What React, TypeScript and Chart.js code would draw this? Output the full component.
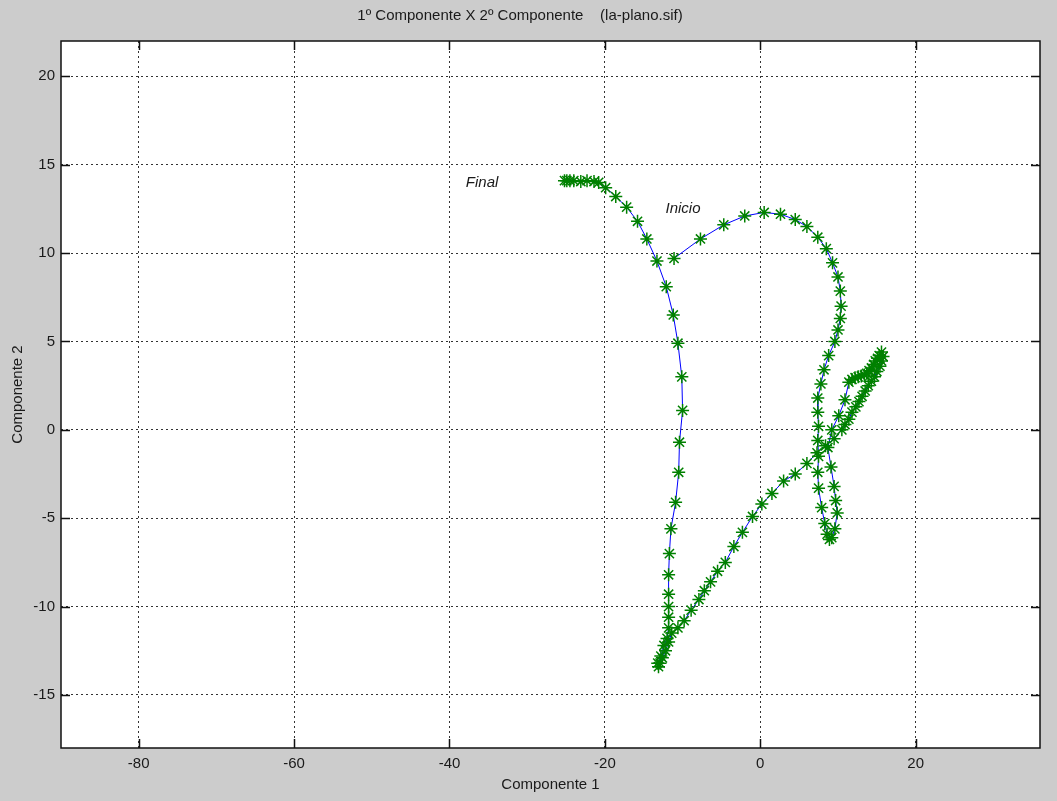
import React, { useEffect, useRef } from "react";
import { Chart, registerables } from "chart.js";

Chart.register(...registerables);

const TITLE = "1º Componente X 2º Componente    (la-plano.sif)";
const X_LABEL = "Componente 1";
const Y_LABEL = "Componente 2";

const X_TICKS = [-80, -60, -40, -20, 0, 20];
const Y_TICKS = [-15, -10, -5, 0, 5, 10, 15, 20];
const X_MIN = -90;
const X_MAX = 36;
const Y_MIN = -18;
const Y_MAX = 22;

// trajectory: 1st component (x) and 2nd component (y)
const comp1 = [
  -11.1, -7.7, -4.7, -2.0, 0.5, 2.6, 4.5, 6.0, 7.4, 8.5, 9.3, 10.0, 10.3, 10.4, 10.3, 10.0, 9.6, 8.8,
  8.2, 7.8, 7.4, 7.4, 7.5, 7.4, 7.5, 7.4, 7.5, 7.9, 8.3, 8.6, 8.9, 9.2, 9.6, 9.9, 9.7, 9.5, 9.1, 8.7,
  9.2, 10.1, 10.9, 11.4, 11.8, 12.2, 12.6, 13.0, 13.4, 13.7, 14.0, 14.3, 14.6, 14.8, 15.1, 15.3, 15.6, 15.8, 15.6,
  15.4, 15.0, 14.7, 14.3, 13.9, 13.5, 13.1, 12.7, 12.3, 11.8, 11.4, 10.9, 10.5,
  9.5, 8.4, 7.3, 6.0, 4.5, 3.0, 1.5, 0.2, -1.0, -2.3, -3.4, -4.5, -5.5, -6.4, -7.2, -7.9, -8.9, -9.8, -10.6, -11.4,
  -11.8, -12.2, -12.6, -12.9, -13.1,
  -13.2, -12.8, -12.4, -12.0, -11.8, -11.8, -11.8, -11.8, -11.8, -11.7, -11.5, -10.9, -10.5, -10.4, -10.0, -10.1,
  -10.6, -11.2, -12.1, -13.3, -14.6, -15.8, -17.2, -18.6, -19.9, -20.8, -21.4, -22.3, -23.1, -24.0, -24.5, -24.9, -25.2,
];
const comp2 = [
  9.7, 10.8, 11.6, 12.1, 12.3, 12.2, 11.9, 11.5, 10.9, 10.25, 9.45, 8.65, 7.85, 7.0, 6.3, 5.65, 5.0, 4.2,
  3.4, 2.6, 1.8, 1.0, 0.2, -0.6, -1.5, -2.4, -3.3, -4.4, -5.3, -5.9, -6.2, -6.1, -5.6, -4.7, -4.0, -3.2, -2.1, -1.0,
  0.0, 0.8, 1.7, 2.7, 2.85, 2.95, 3.0, 3.05, 3.1, 3.2, 3.35, 3.5, 3.7, 3.9, 4.05, 4.2, 4.4, 4.15, 3.9,
  3.6, 3.3, 3.0, 2.75, 2.5, 2.2, 1.9, 1.6, 1.3, 1.0, 0.6, 0.3, 0.0,
  -0.5, -0.9, -1.3, -1.9, -2.5, -2.9, -3.6, -4.2, -4.9, -5.8, -6.6, -7.5, -8.0, -8.6, -9.1, -9.6, -10.2, -10.8, -11.2, -11.5,
  -12.0, -12.5, -12.9, -13.2, -13.4,
  -13.2, -12.8, -12.2, -11.8, -11.2, -10.6, -10.0, -9.3, -8.2, -7.0, -5.6, -4.1, -2.4, -0.7, 1.1, 3.0,
  4.9, 6.5, 8.1, 9.55, 10.8, 11.8, 12.6, 13.2, 13.7, 14.0, 14.05, 14.1, 14.05, 14.1, 14.1, 14.1, 14.1,
];

const NOTE_TEXTS = ["Final", "Inicio"];
const NOTE_X = [-37.9, -12.2];
const NOTE_Y = [14.0, 12.5];

const FONT = "'Liberation Sans', Arial, sans-serif";
const TEXT_COLOR = "#1a1a1a";

const framePlugin = {
  id: "matlabFrame",
  beforeDraw(chart: any) {
    const { ctx, width, height, chartArea: a } = chart;
    ctx.save();
    ctx.fillStyle = "#cccccc";
    ctx.fillRect(0, 0, width, height);
    ctx.fillStyle = "#ffffff";
    ctx.fillRect(a.left, a.top, a.right - a.left, a.bottom - a.top);
    ctx.restore();
  },
  afterDraw(chart: any) {
    const { ctx, chartArea: a, scales } = chart;
    const xs = scales.x;
    const ys = scales.y;
    ctx.save();
    ctx.strokeStyle = "#111111";
    ctx.lineWidth = 1.5;
    ctx.setLineDash([]);
    ctx.strokeRect(a.left, a.top, a.right - a.left, a.bottom - a.top);
    const tl = 9;
    ctx.lineWidth = 1.5;
    ctx.beginPath();
    X_TICKS.forEach((v) => {
      const px = Math.round(xs.getPixelForValue(v)) + 0.5;
      ctx.moveTo(px, a.bottom);
      ctx.lineTo(px, a.bottom - tl);
      ctx.moveTo(px, a.top);
      ctx.lineTo(px, a.top + tl);
    });
    Y_TICKS.forEach((v) => {
      const py = Math.round(ys.getPixelForValue(v)) + 0.5;
      ctx.moveTo(a.left, py);
      ctx.lineTo(a.left + tl, py);
      ctx.moveTo(a.right, py);
      ctx.lineTo(a.right - tl, py);
    });
    ctx.stroke();

    ctx.fillStyle = TEXT_COLOR;
    ctx.font = "italic 15px " + FONT;
    ctx.textAlign = "left";
    ctx.textBaseline = "middle";
    NOTE_TEXTS.forEach((t, i) => {
      ctx.fillText(t, xs.getPixelForValue(NOTE_X[i]), ys.getPixelForValue(NOTE_Y[i]));
    });
    ctx.restore();
  },
};

export default function App() {
  const ref = useRef<HTMLCanvasElement | null>(null);

  useEffect(() => {
    if (!ref.current) return;
    const points = comp1.map((x, i) => ({ x, y: comp2[i] }));
    const chart = new Chart(ref.current, {
      type: "scatter",
      data: {
        datasets: [
          {
            data: points,
            showLine: true,
            borderColor: "#0000ff",
            borderWidth: 1,
            pointStyle: "star",
            pointRadius: 6.5,
            pointBorderColor: "#008000",
            pointBackgroundColor: "#008000",
            pointBorderWidth: 1.5,
            tension: 0,
          },
        ],
      },
      options: {
        animation: false,
        responsive: false,
        devicePixelRatio: 1,
        layout: { padding: { top: 0, right: 17, bottom: 0, left: 0 } },
        plugins: {
          legend: { display: false },
          tooltip: { enabled: false },
          title: {
            display: true,
            text: TITLE,
            color: TEXT_COLOR,
            font: { family: FONT, size: 15, weight: "normal" },
            padding: { top: 7, bottom: 16 },
          },
        },
        scales: {
          x: {
            type: "linear",
            min: X_MIN,
            max: X_MAX,
            afterBuildTicks: (s: any) => {
              s.ticks = X_TICKS.map((v) => ({ value: v }));
            },
            afterFit: (s: any) => {
              s.height = 53;
            },
            ticks: {
              color: TEXT_COLOR,
              font: { family: FONT, size: 15 },
              padding: 7,
              maxRotation: 0,
              autoSkip: false,
            },
            grid: {
              color: "rgba(0,0,0,0.8)",
              lineWidth: 1,
              drawTicks: false,
            },
            border: { display: false, dash: [2, 3] },
            title: {
              display: true,
              text: X_LABEL,
              color: TEXT_COLOR,
              font: { family: FONT, size: 15 },
              padding: { top: 0, bottom: 7 },
            },
          },
          y: {
            type: "linear",
            min: Y_MIN,
            max: Y_MAX,
            afterBuildTicks: (s: any) => {
              s.ticks = Y_TICKS.map((v) => ({ value: v }));
            },
            afterFit: (s: any) => {
              s.width = 61;
            },
            ticks: {
              color: TEXT_COLOR,
              font: { family: FONT, size: 15 },
              padding: 6,
              autoSkip: false,
            },
            grid: {
              color: "rgba(0,0,0,0.8)",
              lineWidth: 1,
              drawTicks: false,
            },
            border: { display: false, dash: [2, 3] },
            title: {
              display: true,
              text: Y_LABEL,
              color: TEXT_COLOR,
              font: { family: FONT, size: 15 },
              padding: { top: 9, bottom: 0 },
            },
          },
        },
      },
      plugins: [framePlugin],
    } as any);
    return () => chart.destroy();
  }, []);

  return (
    <div style={{ position: "fixed", left: 0, top: 0, width: 1057, height: 801 }}>
      <canvas ref={ref} width={1057} height={801} style={{ display: "block", width: 1057, height: 801 }} />
    </div>
  );
}
